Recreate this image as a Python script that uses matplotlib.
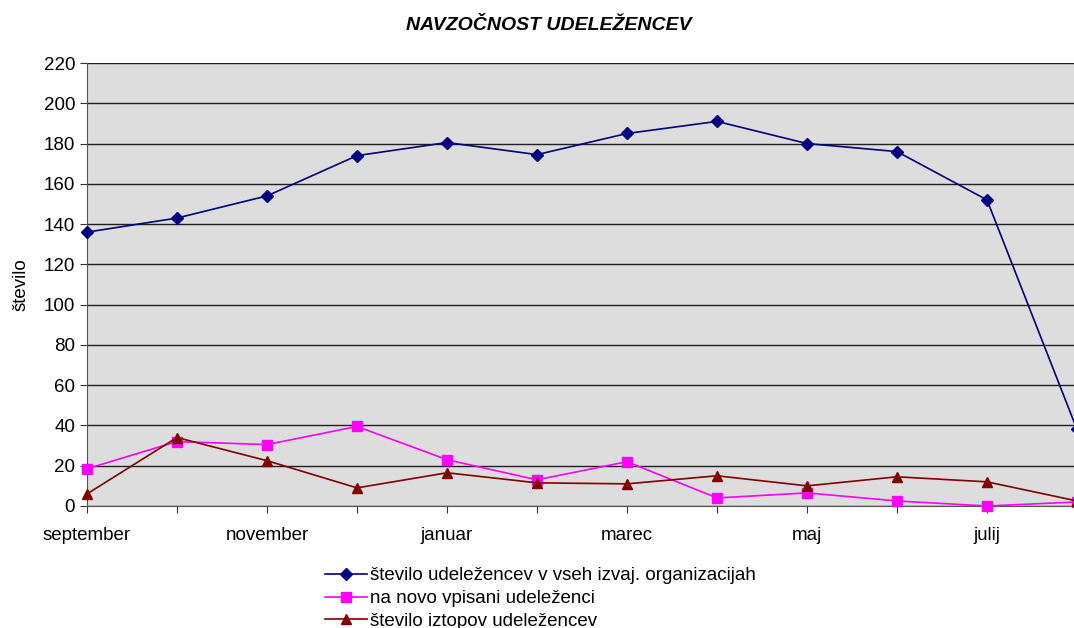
import numpy as np
import matplotlib
matplotlib.use("Agg")
import matplotlib.pyplot as plt

plt.rcParams['font.family'] = ['Liberation Sans', 'DejaVu Sans']

# podatki
meseci = ['september', 'oktober', 'november', 'december', 'januar', 'februar',
          'marec', 'april', 'maj', 'junij', 'julij', 'avgust']
vsi = [136, 143, 154, 174, 180.5, 174.5, 185, 191, 180, 176, 152, 38]
novi = [18.5, 32, 30.5, 39.5, 23, 13, 22, 4, 6.5, 2.5, 0, 2]
izstopi = [6, 34, 22.5, 9, 16.5, 11.5, 11, 15, 10, 14.5, 12, 2.5]

x = np.arange(len(meseci))

fig = plt.figure(figsize=(10.74, 6.28), dpi=100)
ax = fig.add_axes([87 / 1074, (628 - 506) / 628, 990 / 1074, 443 / 628])
ax.set_facecolor('#DDDDDD')

l1, = ax.plot(x, vsi, color='#000080', marker='D', markersize=6, linewidth=1.2,
              label='število udeležencev v vseh izvaj. organizacijah', clip_on=False, zorder=5)
l2, = ax.plot(x, novi, color='#FF00FF', marker='s', markersize=6.5, linewidth=1.2,
              label='na novo vpisani udeleženci', clip_on=False, zorder=4)
l3, = ax.plot(x, izstopi, color='#800000', marker='^', markersize=7.5, linewidth=1.2,
              label='število iztopov udeležencev', clip_on=False, zorder=4)

ax.set_xlim(0, 11)
ax.set_ylim(0, 220)
ax.set_yticks(np.arange(0, 221, 20))
ax.set_xticks(x)
ax.set_xticklabels([m if i % 2 == 0 else '' for i, m in enumerate(meseci)])
ax.tick_params(axis='both', labelsize=13.5, direction='out', length=5, color='#333333')
ax.tick_params(axis='x', pad=10)
ax.grid(axis='y', color='#202020', linewidth=1)
ax.set_axisbelow(True)
for s in ['top', 'right']:
    ax.spines[s].set_visible(False)
ax.spines['left'].set_color('#555555')
ax.spines['bottom'].set_color('#555555')

ax.set_ylabel('število', fontsize=13.5, labelpad=10)
fig.suptitle('NAVZOČNOST UDELEŽENCEV', x=549 / 1074, y=1 - 26 / 628, va='center',
             fontsize=14, fontweight='bold', fontstyle='italic')

fig.legend(handles=[l1, l2, l3], loc='upper left', bbox_to_anchor=(316 / 1074, 1 - 558 / 628),
           frameon=False, fontsize=13.5, handlelength=2.2, handletextpad=0.2,
           labelspacing=0.3, borderpad=0)

fig.savefig('out.png', dpi=100)
